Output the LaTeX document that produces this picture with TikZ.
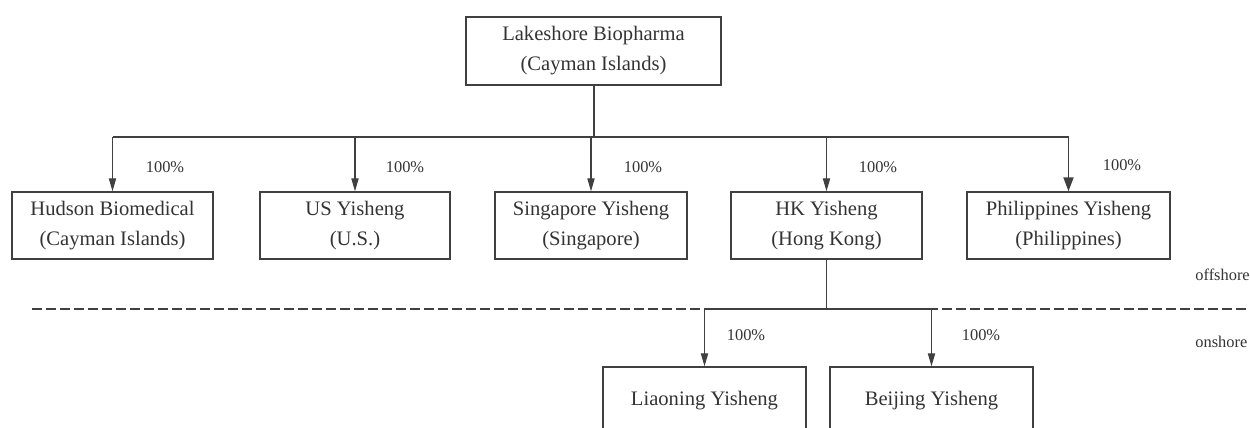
\documentclass[tikz,border=0pt]{standalone}
\usepackage{fontspec}
\setmainfont{Liberation Serif}
\usepackage{xcolor}
\usetikzlibrary{arrows.meta,positioning,calc}
\definecolor{linegray}{HTML}{404040}
\definecolor{textgray}{HTML}{333333}

\begin{document}
\begin{tikzpicture}[
    x=0.5pt, y=-0.5pt,
    box/.style={draw=linegray, line width=0.65pt, minimum height=33.5pt, inner sep=0pt, align=center, text=textgray, font=\fontsize{10.3}{15}\selectfont},
    arrow/.style={-{Triangle[length=6.5pt, width=3.6pt]}, draw=linegray, line width=0.6pt},
    link/.style={draw=linegray, line width=0.6pt},
    trunk/.style={draw=linegray, line width=1pt},
    divider/.style={draw=linegray, line width=0.9pt, dash pattern=on 5pt off 2pt},
    pct/.style={text=textgray, font=\fontsize{8.2}{10}\selectfont}
]
    \clip (0,0) rectangle (1250,428);

    % Parent company
    \node[box, minimum width=127.5pt, minimum height=34pt] (lakeshore) at (593.5,51) {Lakeshore Biopharma\\(Cayman Islands)};

    % Offshore subsidiaries
    \node[box, minimum width=100.5pt] (hudson) at (112.5,225.5) {Hudson Biomedical\\(Cayman Islands)};
    \node[box, minimum width=95pt] (usys) at (355,225.5) {US Yisheng\\(U.S.)};
    \node[box, minimum width=96pt] (singapore) at (591,225.5) {Singapore Yisheng\\(Singapore)};
    \node[box, minimum width=95.5pt] (hkys) at (826.5,225.5) {HK Yisheng\\(Hong Kong)};
    \node[box, minimum width=101.5pt] (philippines) at (1068.5,225.5) {Philippines Yisheng\\(Philippines)};

    % Onshore subsidiaries
    \node[box, minimum width=101.5pt] (liaoning) at (704.5,400.5) {Liaoning Yisheng};
    \node[box, minimum width=101.5pt] (beijing) at (931.5,400.5) {Beijing Yisheng};

    % Bus lines
    \coordinate (bus) at (593.5,137);
    \coordinate (divL) at (32,309);
    \coordinate (divR) at (1250,309);

    % Ownership connectors
    \draw[trunk] (lakeshore.south) -- (bus);
    \draw[link] (hudson.north |- bus) -- (philippines.north |- bus);
    \draw[arrow] (hudson.north |- bus) -- (hudson.north);
    \draw[arrow] (usys.north |- bus) -- (usys.north);
    \draw[arrow] (singapore.north |- bus) -- (singapore.north);
    \draw[arrow] (hkys.north |- bus) -- (hkys.north);
    \draw[arrow, line width=0.9pt, -{Triangle[length=7pt, width=5pt]}] (philippines.north |- bus) -- (philippines.north);

    % Offshore / onshore divider
    \draw[divider] (divL) -- (divR);
    \draw[link] (hkys.south) -- (hkys.south |- divL);
    \draw[link] (liaoning.north |- divL) -- (beijing.north |- divL);
    \draw[arrow] (liaoning.north |- divL) -- (liaoning.north);
    \draw[arrow] (beijing.north |- divL) -- (beijing.north);

    % Shareholding labels
    \node[pct] (pcthudson) at (165,167) {100\%};
    \node[pct] (pctus) at (405,167) {100\%};
    \node[pct] (pctsingapore) at (643,167) {100\%};
    \node[pct] (pcthk) at (878,167) {100\%};
    \node[pct] (pctphilippines) at (1122,165) {100\%};
    \node[pct] (pctliaoning) at (746,335) {100\%};
    \node[pct] (pctbeijing) at (981,335) {100\%};

    % Region labels
    \node[pct, anchor=west, inner sep=0pt] (offshore) at (1195,275) {offshore};
    \node[pct, anchor=west, inner sep=0pt] (onshore) at (1195,342) {onshore};
\end{tikzpicture}
\end{document}
